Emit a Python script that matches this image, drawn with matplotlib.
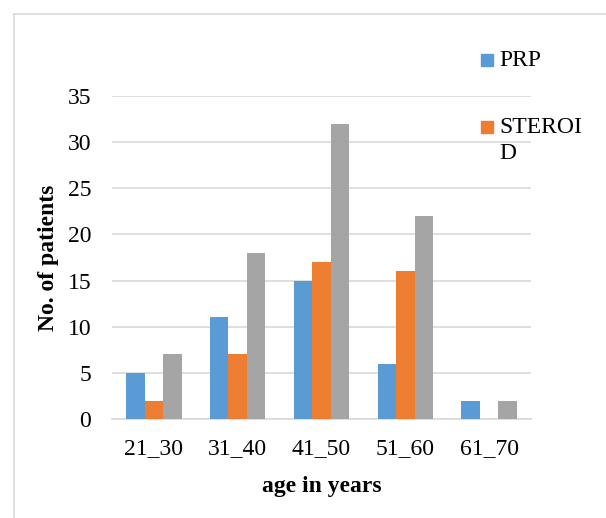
import numpy as np
import matplotlib.pyplot as plt
from matplotlib.patches import Rectangle

# donnees
categories = ['21_30', '31_40', '41_50', '51_60', '61_70']
prp = [5, 11, 15, 6, 2]
steroid = [2, 7, 17, 16, 0]
total = [7, 18, 32, 22, 2]
legend_labels = ['PRP', 'STEROI\nD']
yticks = [0, 5, 10, 15, 20, 25, 30, 35]

plt.rcParams['font.family'] = ['Liberation Serif', 'DejaVu Serif']
fs = 17
grid_col = '#D9D9D9'
colors = ['#5B9BD5', '#ED7D31', '#A5A5A5']

W, H = 606, 518
fig = plt.figure(figsize=(W/100, H/100), dpi=100)
ax = fig.add_axes([112/W, 1-419/H, (531-112)/W, (419-96)/H])

x = np.arange(len(categories))
w = 0.22
ax.bar(x - w, prp, w, color=colors[0], zorder=3)
ax.bar(x, steroid, w, color=colors[1], zorder=3)
ax.bar(x + w, total, w, color=colors[2], zorder=3)

ax.set_xlim(-0.5, len(categories) - 0.5)
ax.set_ylim(0, 35)
ax.set_yticks(yticks)
ax.set_xticks(x)
ax.set_xticklabels(categories)
ax.tick_params(axis='both', length=0, labelsize=fs, colors='black')
ax.tick_params(axis='y', pad=15)
ax.tick_params(axis='x', pad=14)
ax.yaxis.grid(True, color=grid_col, linewidth=1.2, zorder=0)
for s in ['top', 'right', 'left']:
    ax.spines[s].set_visible(False)
ax.spines['bottom'].set_color(grid_col)
ax.spines['bottom'].set_linewidth(1.2)

ax.set_xlabel('age in years', fontsize=fs, fontweight='bold', labelpad=12)
ax.set_ylabel('No. of patients', fontsize=fs, fontweight='bold')
ax.yaxis.set_label_coords((59-112)/(531-112), 0.5)

# legende a droite
for i, lab in enumerate(legend_labels):
    ytop = [54, 121][i]
    fig.patches.append(Rectangle((481/W, 1-(ytop+12)/H), 12/W, 12/H,
                                 transform=fig.transFigure, color=colors[i]))
    fig.text(499/W, 1-(ytop-4)/H, lab, fontsize=fs, va='top', ha='left',
             linespacing=1.3)

# cadre du graphique
fig.add_artist(plt.Line2D([14/W, 14/W], [0, 1-14/H], color=grid_col, lw=1.2))
fig.add_artist(plt.Line2D([14/W, 1], [1-14/H, 1-14/H], color=grid_col, lw=1.2))

fig.savefig('out.png', dpi=100)
